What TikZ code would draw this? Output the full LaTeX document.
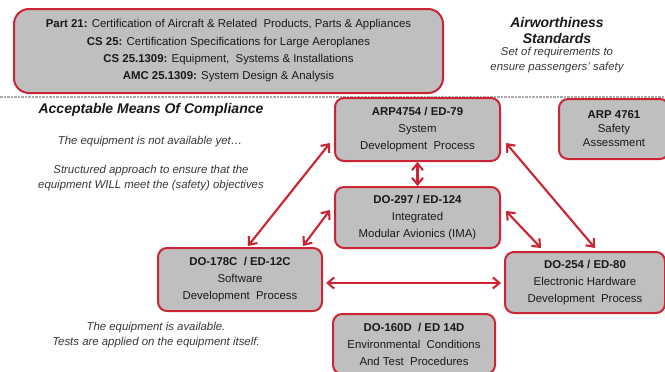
\documentclass[tikz,border=0pt]{standalone}
\usepackage{fontspec}
\setmainfont{Liberation Sans}
\usetikzlibrary{arrows.meta,calc}
\definecolor{boxred}{RGB}{204,36,52}
\definecolor{boxgray}{RGB}{191,191,191}
\definecolor{txt}{RGB}{25,25,25}
\definecolor{itxt}{RGB}{55,55,55}
\definecolor{sepgray}{RGB}{170,170,170}
\begin{document}
\begin{tikzpicture}[x=1pt,y=-1pt,
  stdbox/.style={draw=boxred,fill=boxgray,line width=2pt,rounded corners=9pt,
    align=center,font=\fontsize{11.4}{17}\selectfont,text=txt,inner sep=0pt},
  link/.style={draw=boxred,line width=2.1pt,
    {Straight Barb[length=6.5pt,width=11pt]}-{Straight Barb[length=6.5pt,width=11pt]}},
  headtxt/.style={font=\fontsize{14}{16}\selectfont\bfseries\itshape,text=txt,align=center,inner sep=0pt},
  notetxt/.style={font=\fontsize{11.4}{14.5}\selectfont\itshape,text=itxt,align=center,inner sep=0pt},
  sepline/.style={draw=sepgray,line width=2.8pt,dash pattern=on 2.5pt off 1pt}]
\useasboundingbox (0,0) rectangle (665,372);

% top regulation box
\node[stdbox,rounded corners=15pt,minimum width=429pt,minimum height=84pt,
  font=\fontsize{11.4}{17.3}\selectfont] (reg) at (228.5,51)
  {\textbf{Part 21:} Certification of Aircraft \& Related\ \ Products, Parts \& Appliances\\
   \textbf{CS 25:} Certification Specifications for Large Aeroplanes\\
   \textbf{CS 25.1309:} Equipment,\ \ Systems \& Installations\\
   \textbf{AMC 25.1309:} System Design \& Analysis};

\node[headtxt] (aw) at (557,30) {Airworthiness\\Standards};
\node[notetxt,font=\fontsize{11.4}{15}\selectfont\itshape] (awsub) at (557,60.5)
  {Set of requirements to\\ensure passengers’ safety};

% separator
\coordinate (sepL) at (0,97);
\coordinate (sepR) at (665,97);
\draw[sepline] (sepL) -- (sepR);

\node[headtxt] (amc) at (151,110) {Acceptable Means Of Compliance};
\node[notetxt] (na) at (150,142) {The equipment is not available yet…};
\node[notetxt] (nb) at (151,178) {Structured approach to ensure that the\\equipment WILL meet the (safety) objectives};
\node[notetxt] (nc) at (156,335) {The equipment is available.\\Tests are applied on the equipment itself.};

% process boxes
\node[stdbox,minimum width=165pt,minimum height=63pt] (arp) at (417.5,129.5)
  {\textbf{ARP4754 / ED-79}\\System\\Development\ \ Process};
\node[stdbox,minimum width=165pt,minimum height=61pt] (ima) at (417.5,217.5)
  {\textbf{DO-297 / ED-124}\\Integrated\\Modular Avionics (IMA)};
\node[stdbox,minimum width=110pt,minimum height=60pt,
  font=\fontsize{11.4}{14}\selectfont] (saf) at (614,129)
  {\textbf{ARP 4761}\\Safety\\Assessment};
\node[stdbox,minimum width=164pt,minimum height=63pt] (sw) at (240,279.5)
  {\textbf{DO-178C\ \ / ED-12C}\\Software\\Development\ \ Process};
\node[stdbox,minimum width=160pt,minimum height=61pt] (hw) at (585,282.5)
  {\textbf{DO-254 / ED-80}\\Electronic Hardware\\Development\ \ Process};
\node[stdbox,minimum width=162pt,minimum height=60pt] (env) at (414,344)
  {\textbf{DO-160D\ \ / ED 14D}\\Environmental\ \ Conditions\\And Test\ \ Procedures};

% connectors
\draw[link] ($(sw.north)+(8,-1)$) -- ($(arp.west)+(-4,13.5)$);
\draw[link] ($(sw.north)+(63,-1)$) -- ($(ima.west)+(-4,-7.5)$);
\draw[link] (arp.south) -- (ima.north);
\draw[link] ($(arp.east)+(5,13.5)$) -- ($(hw.north)+(10,-3)$);
\draw[link] ($(ima.east)+(5,-6.5)$) -- ($(hw.north)+(-44,-3)$);
\draw[link] ($(sw.east)+(3,3.5)$) -- ($(hw.west)+(-3,0.5)$);
\end{tikzpicture}
\end{document}
